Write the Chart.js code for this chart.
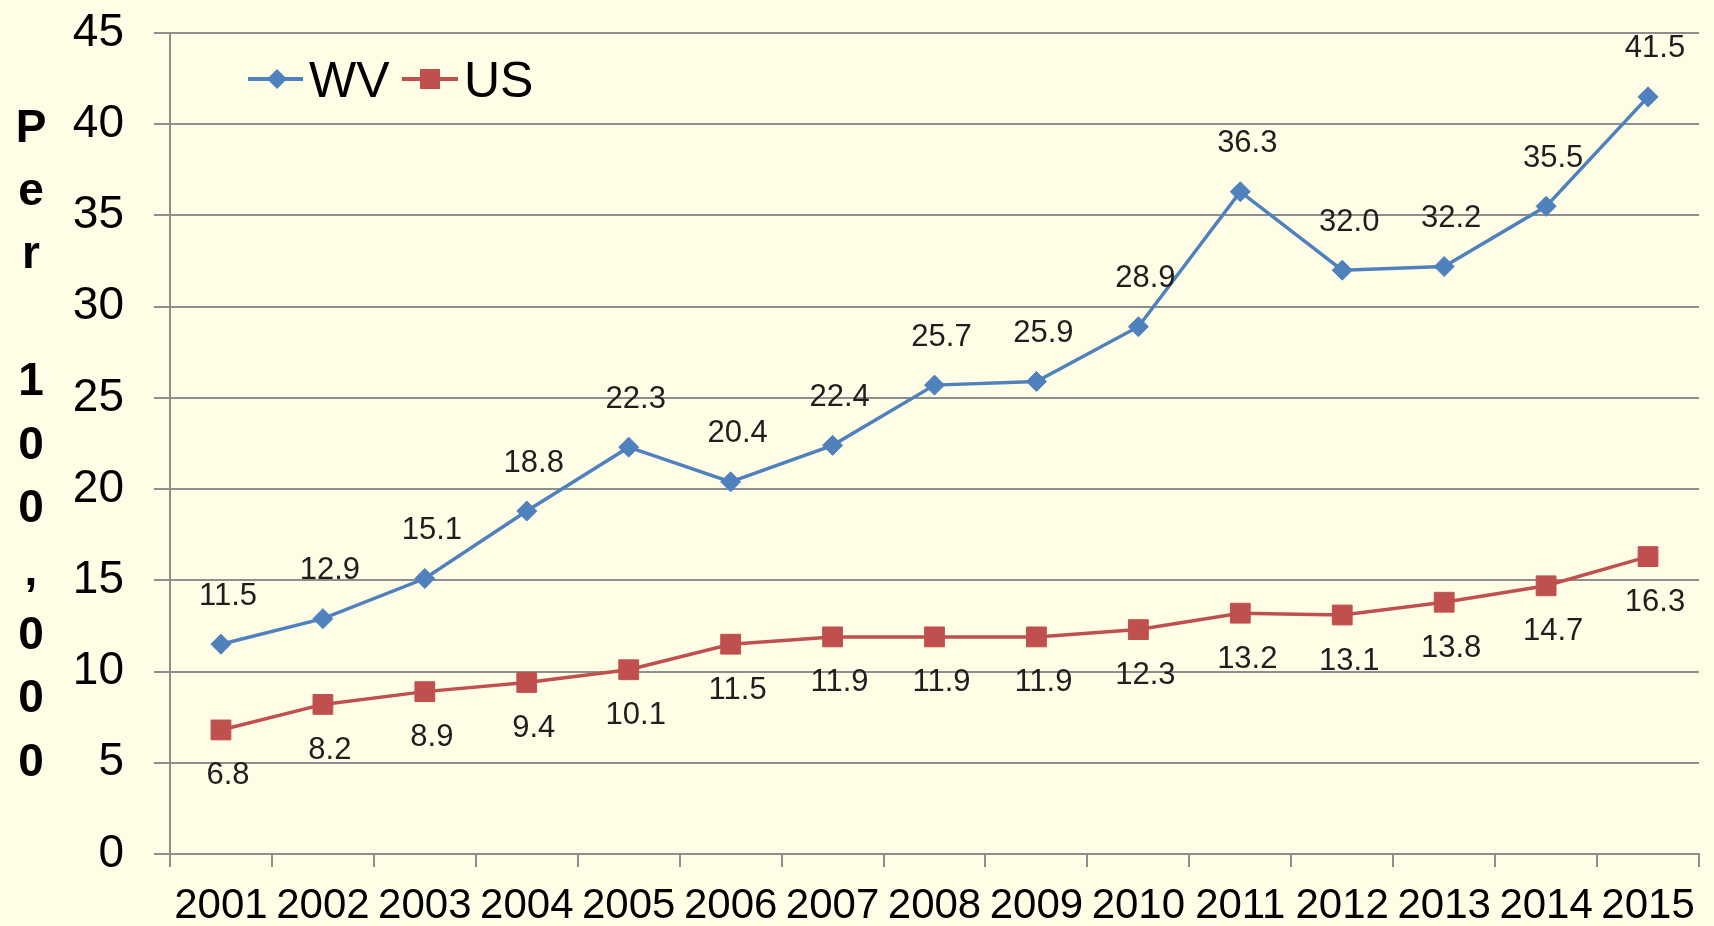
<!DOCTYPE html>
<html>
<head>
<meta charset="utf-8">
<script src="https://cdn.jsdelivr.net/npm/chart.js@4/dist/chart.umd.min.js"></script>
<style>
  html, body { margin: 0; padding: 0; background: #FFFDE6; }
  #wrap { width: 1714px; height: 926px; position: relative; }
</style>
</head>
<body>
<div id="wrap"><canvas id="rateChart"></canvas></div>
<script>
// Rates per 100,000, 2001-2015
const years = ['2001', '2002', '2003', '2004', '2005', '2006', '2007', '2008',
               '2009', '2010', '2011', '2012', '2013', '2014', '2015'];
const wvRates = [11.5, 12.9, 15.1, 18.8, 22.3, 20.4, 22.4, 25.7, 25.9, 28.9, 36.3, 32.0, 32.2, 35.5, 41.5];
const usRates = [6.8, 8.2, 8.9, 9.4, 10.1, 11.5, 11.9, 11.9, 11.9, 12.3, 13.2, 13.1, 13.8, 14.7, 16.3];
const yTitle = ['P', 'e', 'r', ' ', '1', '0', '0', ',', '0', '0', '0'];

const BLUE = '#4F81BD';
const RED = '#C0504D';
const GRID = '#8E8E8E';

// background, stacked y title, legend and value labels
const decorations = {
    id: 'decorations',
    beforeDraw(chart) {
        const ctx = chart.ctx;
        ctx.save();
        ctx.fillStyle = '#FFFDE6';
        ctx.fillRect(0, 0, chart.width, chart.height);
        ctx.restore();
    },
    afterDatasetsDraw(chart) {
        const ctx = chart.ctx;
        ctx.save();
        ctx.font = '31px "Liberation Sans", Arial, sans-serif';
        ctx.fillStyle = '#1E1E1E';
        ctx.textAlign = 'center';
        ctx.textBaseline = 'middle';
        chart.getDatasetMeta(0).data.forEach((pt, i) => {
            ctx.fillText(wvRates[i].toFixed(1), pt.x + 7, pt.y - 48);
        });
        chart.getDatasetMeta(1).data.forEach((pt, i) => {
            ctx.fillText(usRates[i].toFixed(1), pt.x + 7, pt.y + 46);
        });
        ctx.restore();
    },
    afterDraw(chart) {
        const ctx = chart.ctx;
        ctx.save();
        // stacked axis title
        ctx.font = 'bold 46px "Liberation Sans", Arial, sans-serif';
        ctx.fillStyle = '#000';
        ctx.textAlign = 'center';
        ctx.textBaseline = 'middle';
        yTitle.forEach((ch, i) => ctx.fillText(ch, 31, 129 + i * 63.4));

        // legend
        const ly = 79;
        ctx.lineWidth = 4;
        ctx.strokeStyle = BLUE;
        ctx.beginPath(); ctx.moveTo(248, ly); ctx.lineTo(303, ly); ctx.stroke();
        ctx.fillStyle = BLUE;
        ctx.beginPath();
        ctx.moveTo(277, ly - 10); ctx.lineTo(287, ly); ctx.lineTo(277, ly + 10); ctx.lineTo(267, ly);
        ctx.closePath(); ctx.fill();

        ctx.strokeStyle = RED;
        ctx.beginPath(); ctx.moveTo(402, ly); ctx.lineTo(458, ly); ctx.stroke();
        ctx.fillStyle = RED;
        ctx.fillRect(420, ly - 10, 20, 20);

        ctx.font = '50px "Liberation Sans", Arial, sans-serif';
        ctx.fillStyle = '#000';
        ctx.textAlign = 'left';
        ctx.textBaseline = 'alphabetic';
        ctx.fillText(chart.data.datasets[0].label, 309, 97);
        ctx.fillText(chart.data.datasets[1].label, 464, 97);
        ctx.restore();
    }
};

new Chart(document.getElementById('rateChart'), {
    type: 'line',
    data: {
        labels: years,
        datasets: [{
            label: 'WV',
            data: wvRates,
            borderColor: BLUE,
            backgroundColor: BLUE,
            borderWidth: 3.5,
            pointStyle: 'rectRot',
            pointRadius: 10,
            pointBorderWidth: 1,
            tension: 0
        }, {
            label: 'US',
            data: usRates,
            borderColor: RED,
            backgroundColor: RED,
            borderWidth: 3.5,
            pointStyle: 'rect',
            pointRadius: 14,
            pointBorderWidth: 1,
            tension: 0
        }]
    },
    options: {
        responsive: true,
        maintainAspectRatio: false,
        animation: false,
        layout: { padding: { top: 33, right: 5, left: 0, bottom: 0 } },
        plugins: { legend: { display: false }, tooltip: { enabled: false } },
        scales: {
            x: {
                offset: true,
                grid: { offset: true, drawOnChartArea: false, color: GRID, lineWidth: 2, tickLength: 13 },
                border: { color: GRID, width: 2 },
                ticks: {
                    autoSkip: false, maxRotation: 0, padding: 14, color: '#000',
                    font: { family: '"Liberation Sans", Arial, sans-serif', size: 42 }
                },
                afterFit(scale) {
                    scale.height = 72;
                    scale.paddingLeft = 0;
                    scale.paddingRight = 0;
                }
            },
            y: {
                min: 0,
                max: 45,
                grid: { color: GRID, lineWidth: 2, tickLength: 16 },
                border: { color: GRID, width: 2 },
                ticks: {
                    stepSize: 5, padding: 30, color: '#000',
                    font: { family: '"Liberation Sans", Arial, sans-serif', size: 46 }
                },
                afterFit(scale) {
                    scale.width = 170;
                    // tick padding should not push the plot down
                    scale.paddingTop = 20;
                    scale.paddingBottom = 20;
                }
            }
        }
    },
    plugins: [decorations]
});
</script>
</body>
</html>
